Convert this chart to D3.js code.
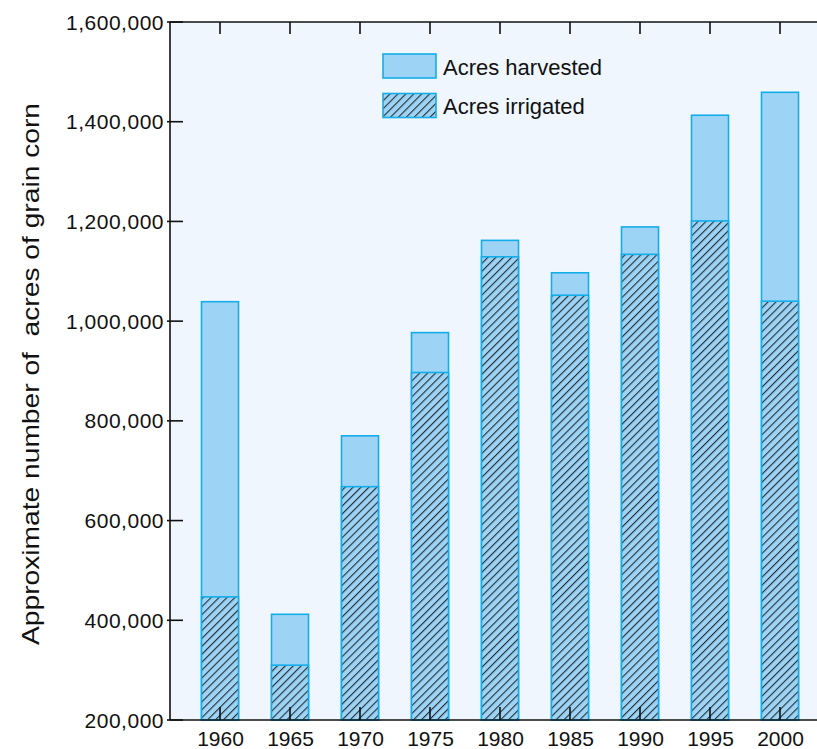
<!DOCTYPE html>
<html>
<head>
<meta charset="utf-8">
<script src="https://cdn.jsdelivr.net/npm/d3@7"></script>
<style>
  html, body { margin: 0; padding: 0; background: #ffffff; }
  svg { display: block; font-family: "Liberation Sans", Arial, sans-serif; }
</style>
</head>
<body>
<svg id="chart" width="817" height="749"></svg>
<script>
// ---- data ----
const years = ["1960", "1965", "1970", "1975", "1980", "1985", "1990", "1995", "2000"];
const acresHarvested = [1039000, 412000, 770000, 977000, 1162000, 1097000, 1189000, 1413000, 1459000];
const acresIrrigated = [447000, 310000, 668000, 897000, 1129000, 1052000, 1134000, 1201000, 1040000];
const yTicks = [200000, 400000, 600000, 800000, 1000000, 1200000, 1400000, 1600000];
const legendLabels = ["Acres harvested", "Acres irrigated"];
const yLabel = "Approximate number of\u00a0 acres of grain corn";

(function () {
// ---- layout ----
const svg = d3.select("#chart");
const pLeft = 170, pTop = 22, pBottom = 720, pRight = 817;
const barW = 37;
const fillLight = "#9dd4f5";
const strokeBlue = "#13aeea";
const bg = "#eff6fd";
const hs = 5.6;

const x = d3.scalePoint().domain(years).range([220, 780]);
const y = d3.scaleLinear().domain([200000, 1600000]).range([pBottom, pTop]);

const defs = svg.append("defs");
const pat = defs.append("pattern")
  .attr("id", "hatch")
  .attr("patternUnits", "userSpaceOnUse")
  .attr("width", hs).attr("height", hs)
  .attr("patternTransform", "rotate(45)");
pat.append("rect").attr("width", hs).attr("height", hs).attr("fill", fillLight);
pat.append("line").attr("x1", 0.6).attr("y1", 0).attr("x2", 0.6).attr("y2", hs)
  .attr("stroke", "#1b2228").attr("stroke-width", 1.05);

// plot background
svg.append("rect").attr("x", pLeft).attr("y", pTop)
  .attr("width", pRight - pLeft).attr("height", pBottom - pTop).attr("fill", bg);

// bars: harvested (full)
svg.append("g").selectAll("rect").data(years).join("rect")
  .attr("x", d => x(d) - barW / 2)
  .attr("y", (d, i) => y(acresHarvested[i]))
  .attr("width", barW)
  .attr("height", (d, i) => y(200000) - y(acresHarvested[i]))
  .attr("fill", fillLight)
  .attr("stroke", strokeBlue).attr("stroke-width", 1.6);

// bars: irrigated (hatched)
svg.append("g").selectAll("rect").data(years).join("rect")
  .attr("x", d => x(d) - barW / 2)
  .attr("y", (d, i) => y(acresIrrigated[i]))
  .attr("width", barW)
  .attr("height", (d, i) => y(200000) - y(acresIrrigated[i]))
  .attr("fill", "url(#hatch)")
  .attr("stroke", strokeBlue).attr("stroke-width", 1.6);

// axes lines
const axisG = svg.append("g").attr("stroke", "#111").attr("stroke-width", 1.6);
axisG.append("line").attr("x1", pLeft).attr("x2", pRight).attr("y1", pTop).attr("y2", pTop);
axisG.append("line").attr("x1", pLeft).attr("x2", pRight).attr("y1", pBottom).attr("y2", pBottom);
axisG.append("line").attr("x1", pLeft).attr("x2", pLeft).attr("y1", pTop).attr("y2", pBottom);

// y ticks (cross the axis)
axisG.append("g").selectAll("line").data(yTicks).join("line")
  .attr("x1", pLeft - 3).attr("x2", pLeft + 13)
  .attr("y1", d => y(d)).attr("y2", d => y(d));

// x ticks top and bottom (inside)
axisG.append("g").selectAll("line").data(years).join("line")
  .attr("x1", d => x(d)).attr("x2", d => x(d))
  .attr("y1", pBottom).attr("y2", pBottom - 13);
axisG.append("g").selectAll("line").data(years).join("line")
  .attr("x1", d => x(d)).attr("x2", d => x(d))
  .attr("y1", pTop).attr("y2", pTop + 12);

// y tick labels
const fmt = d3.format(",");
svg.append("g").selectAll("text").data(yTicks).join("text")
  .attr("x", pLeft - 6)
  .attr("y", d => y(d) + 7.5)
  .attr("text-anchor", "end")
  .attr("font-size", 21)
  .attr("letter-spacing", 0.5)
  .attr("fill", "#111")
  .text(d => fmt(d));

// x tick labels
svg.append("g").selectAll("text").data(years).join("text")
  .attr("x", d => x(d) + 0.5)
  .attr("y", 746)
  .attr("text-anchor", "middle")
  .attr("font-size", 21)
  .attr("fill", "#111")
  .text(d => d);

// y axis label
svg.append("text")
  .attr("transform", "translate(39,374) rotate(-90)")
  .attr("text-anchor", "middle")
  .attr("font-size", 24)
  .attr("textLength", 542)
  .attr("lengthAdjust", "spacingAndGlyphs")
  .attr("fill", "#111")
  .text(yLabel);

// legend
const lg = svg.append("g");
const legendFills = [fillLight, "url(#hatch)"];
const legendY = [54, 93.5];
lg.selectAll("rect").data(legendLabels).join("rect")
  .attr("x", 383).attr("y", (d, i) => legendY[i])
  .attr("width", 53).attr("height", 24)
  .attr("fill", (d, i) => legendFills[i])
  .attr("stroke", strokeBlue).attr("stroke-width", 1.6);
lg.selectAll("text").data(legendLabels).join("text")
  .attr("x", 443).attr("y", (d, i) => legendY[i] + 20.5)
  .attr("font-size", 22)
  .attr("fill", "#111")
  .text(d => d);
})();
</script>
</body>
</html>
